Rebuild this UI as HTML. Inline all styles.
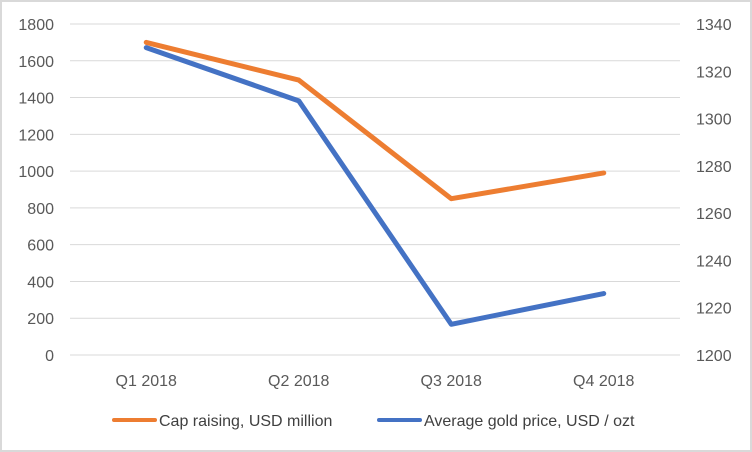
<!DOCTYPE html>
<html><head><meta charset="utf-8"><style>
body{margin:0;background:#fff}
svg{display:block;font-family:"Liberation Sans",sans-serif}
</style></head><body>
<svg id="chart" width="752" height="452">
<rect x="1" y="1" width="750" height="450" fill="#fff" stroke="#d9d9d9" stroke-width="2"/>
<g id="grid"></g><g id="ticks"></g><g id="lines"></g>
<g>
<line x1="114" y1="420" x2="155" y2="420" stroke="#ed7d31" stroke-width="4" stroke-linecap="round"/>
<text x="159" y="426" font-size="16" fill="#404040">Cap raising, USD million</text>
<line x1="379" y1="420" x2="420" y2="420" stroke="#4472c4" stroke-width="4" stroke-linecap="round"/>
<text x="424" y="426" font-size="16" fill="#404040">Average gold price, USD / ozt</text>
</g>
</svg>
<script>
const categories=["Q1 2018","Q2 2018","Q3 2018","Q4 2018"];
const capRaising=[1700,1495,850,990];
const goldPrice=[1330,1307.5,1213,1226];
const leftTicks=[0,200,400,600,800,1000,1200,1400,1600,1800];
const rightTicks=[1200,1220,1240,1260,1280,1300,1320,1340];
const NS="http://www.w3.org/2000/svg";
const yTop=24,yBot=355,x0=70,x1=680;
const yL=v=>yBot-(v-0)/1800*(yBot-yTop);
const yR=v=>yBot-(v-1200)/140*(yBot-yTop);
const xC=i=>x0+(x1-x0)*(i+0.5)/categories.length;
function mk(tag,attrs,parent,txt){const e=document.createElementNS(NS,tag);for(const k in attrs)e.setAttribute(k,attrs[k]);if(txt!==undefined)e.textContent=txt;document.getElementById(parent).appendChild(e);return e;}
leftTicks.forEach(v=>{
 const g=mk("line",{x1:x0,x2:x1,y1:yL(v),y2:yL(v),stroke:"#d9d9d9","stroke-width":1},"grid");
 
 
 const t=mk("text",{x:54,y:yL(v)+6,"text-anchor":"end","font-size":16,fill:"#595959"},"ticks",v);
 
 
});
rightTicks.forEach(v=>{
 const t=mk("text",{x:696,y:yR(v)+6,"font-size":16,fill:"#595959"},"ticks",v);
 
 
});
categories.forEach((c,i)=>{
 const t=mk("text",{x:xC(i),y:386,"text-anchor":"middle","font-size":16,fill:"#595959"},"ticks",c);
 
 
});
const p1=mk("polyline",{points:capRaising.map((v,i)=>xC(i)+","+yL(v)).join(" "),fill:"none",stroke:"#ed7d31","stroke-width":5,"stroke-linecap":"round","stroke-linejoin":"round"},"lines");


const p2=mk("polyline",{points:goldPrice.map((v,i)=>xC(i)+","+yR(v)).join(" "),fill:"none",stroke:"#4472c4","stroke-width":5,"stroke-linecap":"round","stroke-linejoin":"round"},"lines");


</script>
</body></html>
